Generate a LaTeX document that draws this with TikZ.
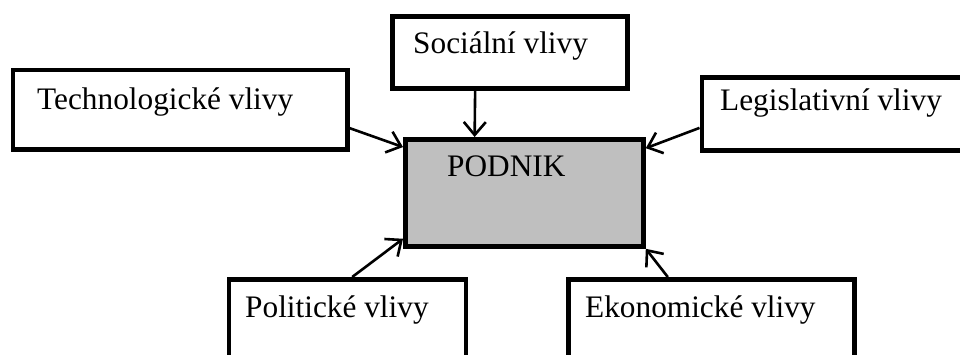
\documentclass[tikz,border=0pt]{standalone}
\usepackage{fontspec}
\setmainfont{Liberation Serif}
\usetikzlibrary{arrows.meta,calc}

\begin{document}
\begin{tikzpicture}[x=1bp,y=-1bp,
    box/.style={draw=black, line width=4.8bp, inner sep=0pt, anchor=north west},
    corebox/.style={box, fill=black!25},
    lbl/.style={anchor=base west, inner sep=0pt, font=\fontsize{31.3bp}{36bp}\selectfont},
    infl/.style={line width=2.6bp, -{Straight Barb[length=13bp,width=22bp]}}]
  \useasboundingbox (0,0) rectangle (960,354);
  \clip (0,0) rectangle (960,354);

  % outer influence boxes (centre lines of the frames)
  \node[box, minimum width=334.5bp, minimum height=79.5bp] (tech) at (10.5,67.5) {};
  \node[box, minimum width=235bp,   minimum height=72bp]   (soc)  at (390,14) {};
  \node[box, minimum width=300bp,   minimum height=73bp]   (leg)  at (699.5,75) {};
  \node[box, minimum width=237bp,   minimum height=78bp]   (pol)  at (226.5,277) {};
  \node[box, minimum width=286bp,   minimum height=78bp]   (eko)  at (566,277) {};

  % the company in the middle
  \node[corebox, minimum width=238bp, minimum height=107bp] (podnik) at (403,137) {};

  % labels
  \node[lbl] (techT) at (37,109)  {Technologické vlivy};
  \node[lbl] (socT)  at (413,53)  {Sociální vlivy};
  \node[lbl] (legT)  at (720,110) {Legislativní vlivy};
  \node[lbl] (podT)  at (447,176) {PODNIK};
  \node[lbl] (polT)  at (245,317) {Politické vlivy};
  \node[lbl] (ekoT)  at (585,317) {Ekonomické vlivy};

  % influences acting on the company
  \draw[infl] ($(soc.south west)!0.355!(soc.south east)$) -- ($(podnik.north west)!0.295!(podnik.north east)$);
  \draw[infl] ($(tech.north east)!0.72!(tech.south east)$) -- ($(podnik.north west)!0.09!(podnik.south west)$);
  \draw[infl] ($(leg.north west)!0.68!(leg.south west)$) -- ($(podnik.north east)!0.10!(podnik.south east)$);
  \draw[infl] ($(pol.north west)!0.52!(pol.north east)$) -- ($(podnik.south west)!0.09!(podnik.north west)$);
  \draw[infl] ($(eko.north west)!0.35!(eko.north east)$) -- (podnik.south east);
\end{tikzpicture}
\end{document}
